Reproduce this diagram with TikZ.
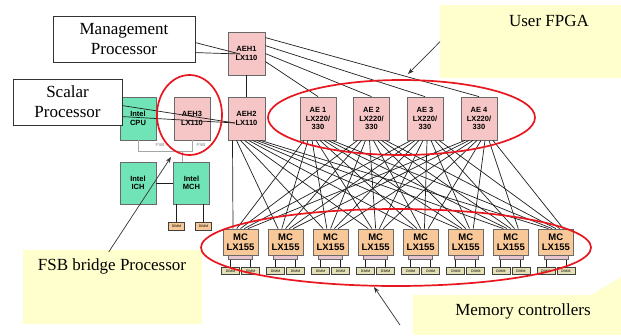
\documentclass[tikz,border=0pt]{standalone}
\usepackage{fontspec}
\setmainfont{Liberation Serif}
\newfontfamily\arialf{Liberation Sans}
\usetikzlibrary{arrows.meta,calc}
\definecolor{pinkf}{RGB}{246,198,198}
\definecolor{greenf}{RGB}{112,228,182}
\definecolor{orangef}{RGB}{248,200,152}
\definecolor{dimmf}{RGB}{228,224,182}
\definecolor{barf}{RGB}{232,196,206}
\definecolor{yellowf}{RGB}{255,255,206}
\definecolor{redl}{RGB}{232,22,30}
\definecolor{boxb}{RGB}{105,105,105}
\tikzset{
  hw/.style={draw=boxb, line width=0.8pt, inner sep=0pt, align=center,
    font=\arialf\bfseries\fontsize{7.5}{8.6}\selectfont},
  pinkbox/.style={hw, fill=pinkf, minimum width=37pt, minimum height=43pt},
  greenbox/.style={hw, fill=greenf, minimum width=36pt, minimum height=42pt},
  mcbox/.style={hw, fill=orangef, minimum width=35pt, minimum height=26pt,
    font=\arialf\bfseries\fontsize{9.5}{10.5}\selectfont},
  barbox/.style={draw=boxb, fill=barf, line width=0.5pt, minimum width=24pt, minimum height=4pt, inner sep=0pt},
  dimmbox/.style={draw=black!75, fill=dimmf, line width=0.6pt, minimum width=18pt,
    minimum height=7pt, inner sep=0pt, font=\arialf\fontsize{3.5}{4}\selectfont},
  mchdimm/.style={dimmbox, fill=orangef, minimum width=16pt, minimum height=8pt},
  callout/.style={draw=black!80, fill=white, line width=0.8pt, align=center,
    inner sep=0pt, font=\fontsize{17}{20}\selectfont},
  note/.style={fill=yellowf, inner sep=0pt, anchor=north west},
  notetext/.style={font=\fontsize{17}{20}\selectfont, inner sep=0pt},
  wire/.style={draw=black!88, line width=0.7pt},
  fsbw/.style={draw=black!35, line width=0.8pt},
  fsblabel/.style={font=\arialf\fontsize{4.5}{5}\selectfont, text=black!50, inner sep=0.5pt},
  ring/.style={draw=redl, line width=1.7pt},
  ptr/.style={draw=black!80, line width=0.7pt, -{Stealth[length=6pt,width=4.5pt]}}
}
\begin{document}
\begin{tikzpicture}[x=1pt,y=-1pt]
\useasboundingbox (0,0) rectangle (621,335);
\fill[white] (0,0) rectangle (621,335);

% yellow notes
\node[note, minimum width=181pt, minimum height=73pt] (fpganote) at (440,5) {};
\node[notetext] (fpgatext) at (549,21) {User FPGA};
\node[note, minimum width=179pt, minimum height=74pt] (fsbnote) at (23,250) {};
\node[notetext] (fsbtext) at (112,266) {FSB bridge Processor};
\node[note, minimum width=208pt, minimum height=40pt] (memnote) at (413,295) {};
\fill[yellowf] (590,295.5) -- (621,277) -- (621,295.5) -- cycle;
\node[notetext] (memtext) at (523,311) {Memory controllers};

% hardware boxes
\node[pinkbox] (aeh1) at (246.5,53.5) {AEH1\\LX110};
\node[pinkbox] (aeh2) at (246.5,118.5) {AEH2\\LX110};
\node[pinkbox, minimum width=36pt] (aeh3) at (192,118.5) {AEH3\\LX110};
\node[greenbox, minimum height=43pt] (cpu) at (138,118.5) {Intel\\CPU};
\node[greenbox] (ich) at (138,183) {Intel\\ICH};
\node[greenbox] (mch) at (191.5,183) {Intel\\MCH};
\node[mchdimm] (md1) at (176.5,226) {DIMM};
\node[mchdimm] (md2) at (203.5,226) {DIMM};

\foreach \k/\x in {1/318,2/371.5,3/425,4/479}
  \node[pinkbox, minimum width=36pt] (ae\k) at (\x,118.5) {AE \k\\LX220/\\330};

\foreach \j in {1,...,8} {
  \node[mcbox] (mc\j) at ({240.5+45.05*(\j-1)},242) {MC\\LX155};
  \node[barbox] (bar\j) at ($(mc\j.south)+(0,2)$) {};
  \node[dimmbox] (da\j) at ($(mc\j.south)+(-10,15.5)$) {DIMM};
  \node[dimmbox] (db\j) at ($(mc\j.south)+(10,15.5)$) {DIMM};
  \draw[wire] (da\j.north |- bar\j.south) -- (da\j.north);
  \draw[wire] (db\j.north |- bar\j.south) -- (db\j.north);
}

% connections
\draw[wire] (aeh1) -- (aeh2);
\draw[wire] ($(aeh1.north east)+(0,6)$) -- (ae4.north);
\draw[wire] ($(aeh1.north east)+(0,14)$) -- (ae3.north);
\draw[wire] ($(aeh1.north east)+(0,22)$) -- (ae2.north);
\draw[wire] ($(aeh1.north east)+(0,30)$) -- (ae1.north);
\foreach \j in {1,...,8}
  \draw[wire] ($(aeh2.south)+({(\j-4.5)*4},0)$) -- ($(mc\j.north)+(-7.5,0)$);
\foreach \i in {1,...,4}
  \foreach \j in {1,...,8}
    \draw[wire] ($(ae\i.south)+({(\j-4.5)*4},0)$) -- ($(mc\j.north)+({(\i-2)*3.75},0)$);
\draw[wire] (ich) -- (mch);
\draw[wire] (md1.north |- mch.south) -- (md1.north);
\draw[wire] (md2.north |- mch.south) -- (md2.north);

% FSB
\draw[fsbw] (cpu.south) |- ($(aeh3.south)+(0,11)$) -- (aeh3.south);
\draw[fsbw] ($(mch.north)+(-9.5,0)$) -- ++(0,-11);
\node[fsblabel] (fsb1) at (160,145) {FSB};
\node[fsblabel] (fsb2) at (201,145) {FSB};

% callouts
\node[callout, minimum width=142pt, minimum height=46pt] (mgmt) at (124,39) {Management\\Processor};
\node[callout, minimum width=109pt, minimum height=46pt] (scalar) at (67.5,102) {Scalar\\Processor};
\coordinate (mgtip) at (240,54);
\coordinate (sctip) at (235,123);
\draw[wire] ($(mgmt.north east)+(0,27)$) -- (mgtip);
\draw[wire] ($(mgmt.north east)+(0,37)$) -- (mgtip);
\draw[wire] ($(scalar.north east)+(0,27)$) -- (sctip);
\draw[wire] ($(scalar.north east)+(0,38)$) -- (sctip);

% red rings
\draw[ring] (189.5,115) ellipse [x radius=32.5pt, y radius=40pt];
\draw[ring] (401.5,117.5) ellipse [x radius=133.5pt, y radius=37.5pt];
\draw[ring] (396,247.5) ellipse [x radius=195pt, y radius=38.5pt];

% pointers
\coordinate (fpgatip) at (408,74);
\coordinate (fsbtip) at (171,157);
\coordinate (memstart) at (400,325);
\coordinate (memtip) at (374,287);
\draw[ptr] (fpganote.west) -- (fpgatip);
\draw[ptr] ($(fsbnote.north)+(-4,2)$) -- (fsbtip);
\draw[ptr] (memstart) -- (memtip);
\end{tikzpicture}
\end{document}
